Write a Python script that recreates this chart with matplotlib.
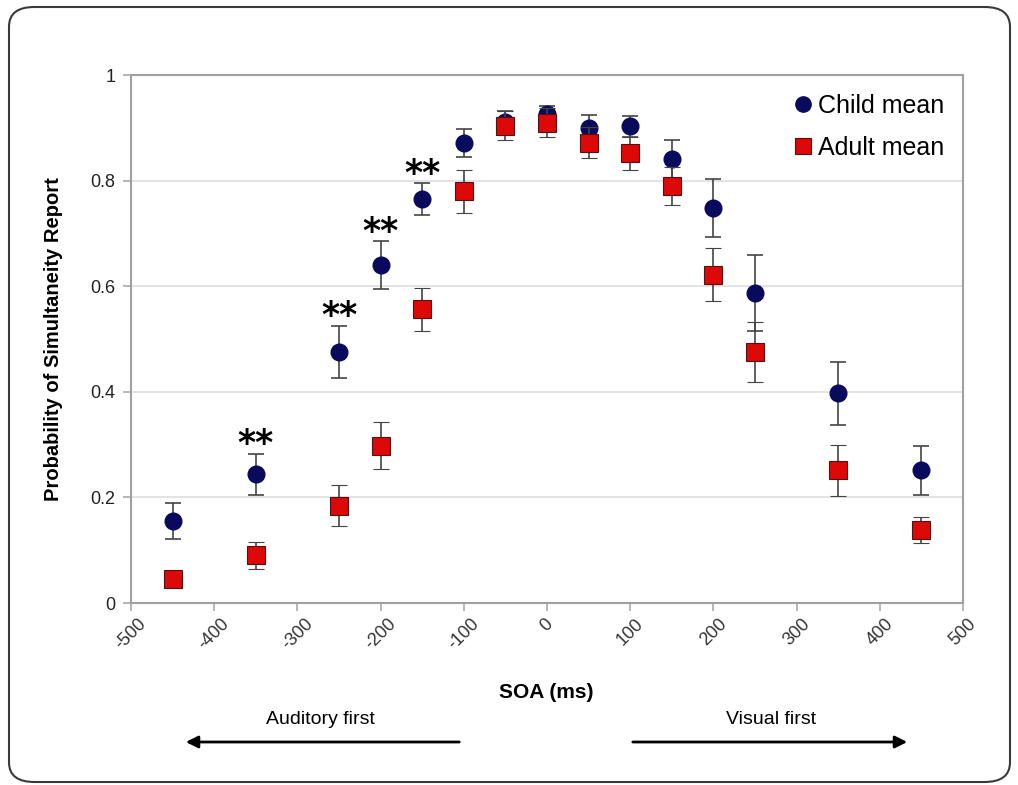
import numpy as np
import matplotlib.pyplot as plt
from matplotlib.patches import FancyBboxPatch, FancyArrowPatch
from matplotlib.lines import Line2D

plt.rcParams['font.family'] = ['Liberation Sans', 'DejaVu Sans']

soa = [-450, -350, -250, -200, -150, -100, -50, 0, 50, 100, 150, 200, 250, 350, 450]
child_mean = [0.156, 0.244, 0.476, 0.640, 0.765, 0.871, 0.911, 0.926, 0.899, 0.903, 0.840, 0.748, 0.588, 0.397, 0.251]
child_err = [0.034, 0.039, 0.049, 0.045, 0.030, 0.027, 0.020, 0.015, 0.025, 0.020, 0.036, 0.055, 0.072, 0.060, 0.047]
adult_mean = [0.045, 0.090, 0.184, 0.298, 0.556, 0.780, 0.904, 0.910, 0.872, 0.852, 0.790, 0.622, 0.476, 0.251, 0.138]
adult_err = [0.008, 0.025, 0.039, 0.045, 0.040, 0.041, 0.028, 0.028, 0.030, 0.031, 0.036, 0.050, 0.057, 0.048, 0.025]
# SOAs marked as significant (**)
signif = [-350, -250, -200, -150]

xticks = np.arange(-500, 501, 100)
yticks = [0, 0.2, 0.4, 0.6, 0.8, 1]
ytick_labels = ['0', '0.2', '0.4', '0.6', '0.8', '1']

navy = '#0a0a5c'
red = '#dd0808'
err_color = '#444444'

fig = plt.figure(figsize=(10.18, 7.85), dpi=100)
ax = fig.add_axes([131 / 1018, 1 - 603 / 785, 832 / 1018, 528 / 785])

ax.errorbar(soa, child_mean, yerr=child_err, fmt='o', color=navy, ms=12,
            mec=navy, ecolor=err_color, elinewidth=1.2, capsize=5.5, capthick=1.2,
            zorder=3)
ax.errorbar(soa, adult_mean, yerr=adult_err, fmt='s', color=red, ms=12.5,
            mec='#551111', mew=0.8, ecolor=err_color, elinewidth=1.2, capsize=5.5,
            capthick=1.2, zorder=4)

for s in signif:
    i = soa.index(s)
    ax.text(s, child_mean[i] + child_err[i] + 0.018, '**', ha='center', va='center',
            fontsize=25, fontweight='bold', color='black', family='DejaVu Sans')

ax.set_xlim(-500, 500)
ax.set_ylim(0, 1)
ax.set_xticks(xticks)
ax.set_xticklabels([str(t) for t in xticks], rotation=45, ha='center',
                   fontsize=13, color='#333333')
ax.set_yticks(yticks)
ax.set_yticklabels(ytick_labels, fontsize=13, color='#222222')
ax.tick_params(axis='both', color='#aaaaaa', length=6, width=1.2)
ax.tick_params(axis='x', pad=3)
ax.tick_params(axis='y', pad=5)
ax.grid(True, axis='y', color='#e0e0e0', lw=1.3, zorder=0)
ax.set_axisbelow(True)
for sp in ax.spines.values():
    sp.set_color('#a0a0a0')
    sp.set_linewidth(1.5)

ax.set_ylabel('Probability of Simultaneity Report', fontsize=14.5, fontweight='bold')
ax.yaxis.set_label_coords(-0.082, 0.5)
ax.set_xlabel('SOA (ms)', fontsize=15, fontweight='bold')
ax.xaxis.set_label_coords(0.499, -0.152)

handles = [Line2D([], [], ls='none', marker='o', color=navy, ms=11),
           Line2D([], [], ls='none', marker='s', color=red, mec='#551111', mew=0.8, ms=11.5)]
ax.legend(handles, ['Child mean', 'Adult mean'], loc='upper right',
          bbox_to_anchor=(1.0, 1.0), frameon=False, fontsize=18,
          handletextpad=0.2, labelspacing=0.72, borderaxespad=0.35, handlelength=0.8)

# direction annotations under the axis
fig.text(320 / 1018, 1 - 719 / 785, 'Auditory first', ha='center', va='center', fontsize=14)
fig.text(771 / 1018, 1 - 719 / 785, 'Visual first', ha='center', va='center', fontsize=14)
for x0, x1 in [(462, 183), (630, 910)]:
    fig.add_artist(FancyArrowPatch((x0 / 1018, 1 - 742 / 785), (x1 / 1018, 1 - 742 / 785),
                                   transform=fig.transFigure, arrowstyle='-|>',
                                   mutation_scale=18, lw=2, color='black'))

# rounded border around the whole figure
fig.add_artist(FancyBboxPatch((9 / 1018, 3 / 785), 1001 / 1018, 775 / 785,
                              boxstyle='round,pad=0,rounding_size=0.025',
                              transform=fig.transFigure, fill=False,
                              ec='#3a3a3a', lw=1.5))

fig.savefig('out.png', dpi=100)
